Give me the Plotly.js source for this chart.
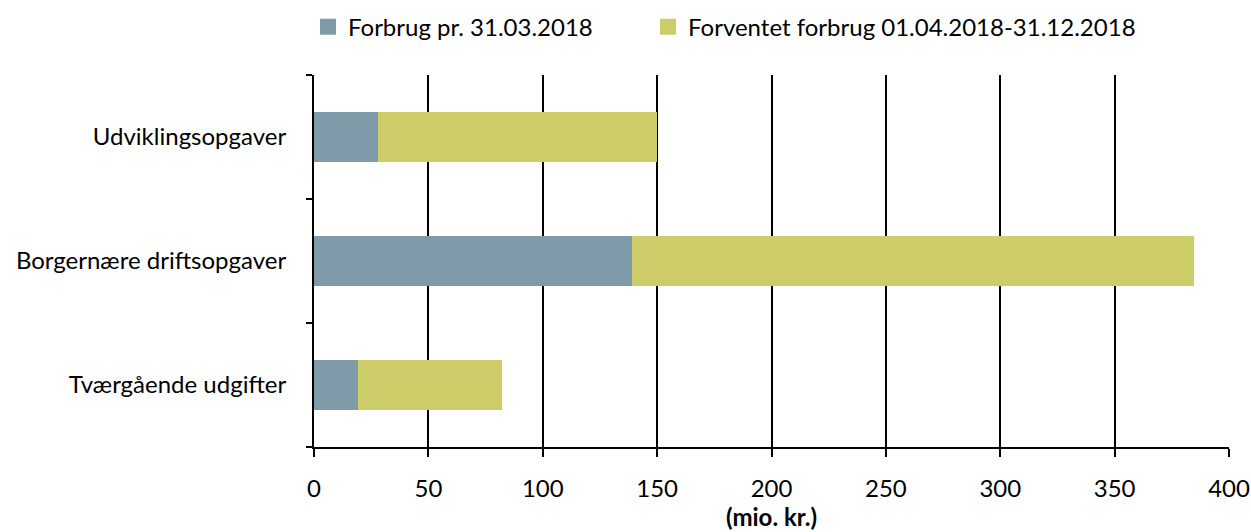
<!DOCTYPE html>
<html>
<head>
<meta charset="utf-8">
<script src="https://cdn.plot.ly/plotly-3.0.1.min.js"></script>
<style>html,body{margin:0;padding:0;background:#fff;}#chart{width:1251px;height:532px;}</style>
</head>
<body>
<div id="chart"></div>
<script>
const categories = ["Tværgående udgifter", "Borgernære driftsopgaver", "Udviklingsopgaver"];
const seriesNames = ["Forbrug pr. 31.03.2018", "Forventet forbrug 01.04.2018-31.12.2018"];
const forbrug = [19.4, 139.1, 28.1];
const forventet = [63.0, 245.5, 121.9];
const xTicks = [0, 50, 100, 150, 200, 250, 300, 350, 400];
const xTitle = "(mio. kr.)";
const colors = ["#7F9AA8", "#CCCC68"];

const font = "Lato, 'Open Sans', sans-serif";
const data = [
  {type: "bar", orientation: "h", name: seriesNames[0], y: categories, x: forbrug,
   marker: {color: colors[0]}, width: 0.4, showlegend: false},
  {type: "bar", orientation: "h", name: seriesNames[1], y: categories, x: forventet,
   marker: {color: colors[1]}, width: 0.4, showlegend: false},
  {type: "scatter", mode: "markers", name: seriesNames[0], x: [null], y: [null],
   marker: {symbol: "square", size: 16, color: colors[0]}, legend: "legend", hoverinfo: "skip"},
  {type: "scatter", mode: "markers", name: seriesNames[1], x: [null], y: [null],
   marker: {symbol: "square", size: 16, color: colors[1]}, legend: "legend2", hoverinfo: "skip"}
];
const legBase = {orientation: "h", xanchor: "left", yref: "container", y: 0.949, yanchor: "middle",
                 font: {size: 24, family: font, color: "#000"}, bgcolor: "rgba(0,0,0,0)"};
const layout = {
  width: 1251, height: 532,
  margin: {l: 314, r: 22, t: 75, b: 85, autoexpand: false},
  barmode: "stack",
  paper_bgcolor: "#fff", plot_bgcolor: "#fff",
  font: {family: font, size: 24, color: "#000"},
  showlegend: true,
  legend: Object.assign({}, legBase, {xref: "container", x: 0.2462}),
  legend2: Object.assign({}, legBase, {xref: "container", x: 0.518}),
  xaxis: {range: [0, 400], tickvals: xTicks, ticktext: xTicks.map(String),
          showgrid: true, gridcolor: "#000", gridwidth: 2,
          showline: true, linecolor: "#000", linewidth: 2,
          ticks: "outside", ticklen: 8, tickwidth: 2, tickcolor: "#000",
          ticklabelstandoff: 11, zeroline: false,
          title: {text: "<b>" + xTitle + "</b>", font: {size: 24}, standoff: 8},
          fixedrange: true},
  yaxis: {type: "category", categoryarray: categories, tickson: "boundaries",
          showline: true, linecolor: "#000", linewidth: 2,
          ticks: "outside", ticklen: 6, tickwidth: 2, tickcolor: "#000",
          ticklabelstandoff: 21, showgrid: false, fixedrange: true}
};
Plotly.newPlot("chart", data, layout, {displayModeBar: false, staticPlot: true});
</script>
</body>
</html>
